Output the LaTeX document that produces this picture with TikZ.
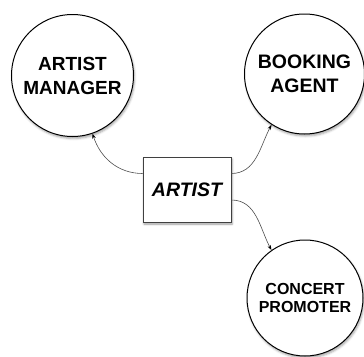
\documentclass[tikz,border=0pt]{standalone}
\usepackage{fontspec}
\setmainfont{Liberation Sans}
\usetikzlibrary{arrows.meta,shadows.blur}
\begin{document}
\begin{tikzpicture}[x=1pt,y=-1pt,
  role/.style={circle,draw=black,line width=1pt,fill=white,
    blur shadow={shadow xshift=1pt,shadow yshift=-2pt,shadow blur steps=4,shadow opacity=35},
    align=center,font=\bfseries},
  hub/.style={rectangle,draw=black!75,line width=0.6pt,fill=white,
    blur shadow={shadow xshift=1pt,shadow yshift=-2pt,shadow blur steps=4,shadow opacity=40},
    minimum width=88pt,minimum height=65pt,inner sep=0pt},
  link/.style={draw=black!70,line width=0.6pt,-{Stealth[length=5pt,width=3.5pt,black]}}]
\useasboundingbox (0,0) rectangle (364,356);
\clip (0,0) rectangle (364,356);

\node[role,minimum size=122pt,inner sep=0pt,font=\bfseries\fontsize{19}{24}\selectfont]
  (manager) at (72.5,75.5) {ARTIST\\MANAGER};
\node[role,minimum size=120pt,inner sep=0pt,font=\bfseries\fontsize{19.5}{24}\selectfont]
  (booking) at (304.5,74) {BOOKING\\AGENT};
\node[role,minimum size=116pt,inner sep=0pt,font=\bfseries\fontsize{16}{18}\selectfont]
  (promoter) at (305,298) {CONCERT\\PROMOTER};

\node[hub,font=\bfseries\itshape\fontsize{19.5}{24}\selectfont] (artist) at (187,189.5) {ARTIST};

\draw[link] ([yshift=16pt]artist.west) to[out=180,in=-72] (manager.-71);
\draw[link] ([yshift=16pt]artist.east) to[out=0,in=-118] (booking.-123);
\draw[link] ([yshift=-10.5pt]artist.east) to[out=0,in=118] (promoter.125);
\end{tikzpicture}
\end{document}
